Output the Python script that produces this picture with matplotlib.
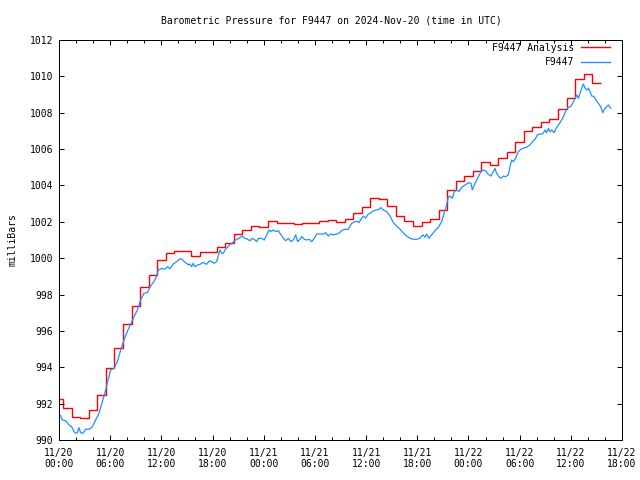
import numpy as np
import matplotlib
matplotlib.use("Agg")
import matplotlib.pyplot as plt
from matplotlib.lines import Line2D
from matplotlib.ticker import MultipleLocator

# ---------------- data ----------------
title = "Barometric Pressure for F9447 on 2024-Nov-20 (time in UTC)"
y_label = "milliBars"
analysis_label = "F9447 Analysis"
station_label = "F9447"

# x axis in hours since 2024-11-20 00:00 UTC
tick_hours = [0, 6, 12, 18, 24, 30, 36, 42, 48, 54, 60, 66]
tick_labels = ["11/20\n00:00", "11/20\n06:00", "11/20\n12:00", "11/20\n18:00",
               "11/21\n00:00", "11/21\n06:00", "11/21\n12:00", "11/21\n18:00",
               "11/22\n00:00", "11/22\n06:00", "11/22\n12:00", "11/22\n18:00"]
y_ticks = [990, 992, 994, 996, 998, 1000, 1002, 1004, 1006, 1008, 1010, 1012]

# hourly analysis values (hour 0 .. 63)
red_hours = list(range(64))
red_mbar = [992.24, 991.74, 991.25, 991.19, 991.65, 992.47, 993.96, 995.04, 996.36, 997.39,
            998.40, 999.06, 999.88, 1000.27, 1000.38, 1000.38, 1000.12, 1000.32, 1000.32, 1000.60,
            1000.82, 1001.31, 1001.55, 1001.77, 1001.72, 1002.03, 1001.92, 1001.92, 1001.87, 1001.96,
            1001.96, 1002.04, 1002.08, 1002.01, 1002.14, 1002.50, 1002.82, 1003.30, 1003.24, 1002.87,
            1002.32, 1002.03, 1001.77, 1001.97, 1002.16, 1002.65, 1003.73, 1004.25, 1004.52, 1004.80,
            1005.27, 1005.13, 1005.51, 1005.86, 1006.37, 1007.00, 1007.23, 1007.49, 1007.66, 1008.19,
            1008.79, 1009.86, 1010.11, 1009.62]

# station observations
blue_hours = [0, 0.2, 0.39, 0.78, 1.17, 1.48, 1.76, 1.95, 2.15, 2.34, 2.54, 2.81, 3.13, 3.59, 3.9,
              4.3, 4.69, 5.08, 5.47, 5.66, 5.86, 6.05, 6.45, 6.84, 7.23, 7.62, 8.0, 8.4, 8.79, 9.18,
              9.57, 9.96, 10.35, 10.74, 11.13,
              11.45, 11.64, 12.03, 12.42, 12.73, 13.0, 13.4, 13.79, 14.18, 14.38, 14.69, 14.96, 15.16,
              15.35, 15.55, 15.74, 15.94, 16.25, 16.52, 16.91, 17.3, 17.62, 17.89, 18.2, 18.48, 18.87,
              19.06, 19.26, 19.53, 19.92, 20.31, 20.7, 21.09, 21.48, 21.8, 22.11, 22.38, 22.66,
              22.98, 23.18, 23.37, 23.76, 24.07, 24.35, 24.62, 24.86, 25.13, 25.4, 25.71, 26.03, 26.3,
              26.57, 26.89, 27.2, 27.47, 27.75, 27.98, 28.25, 28.45, 28.76, 29.04, 29.31, 29.62, 29.93,
              30.21, 30.6, 30.99, 31.26, 31.57, 31.89, 32.16, 32.55, 32.82, 33.21, 33.61, 33.92, 34.31,
              34.7, 34.9, 35.17, 35.48, 35.68, 35.95, 36.18, 36.46, 36.85, 37.24, 37.51, 37.75, 38.02,
              38.41, 38.8, 39.19, 39.58, 39.97, 40.36, 40.75, 41.15, 41.54, 41.93, 42.32, 42.51, 42.71,
              42.9, 43.1, 43.37, 43.68, 44.08, 44.47, 44.86,
              45.25, 45.45, 45.64, 45.84, 46.11, 46.34, 46.62, 46.89, 47.2, 47.52, 47.79, 48.06, 48.3,
              48.45, 48.69, 48.96, 49.16, 49.47, 49.74, 50.02, 50.33, 50.64, 50.91, 51.11, 51.3, 51.58,
              51.81, 52.09, 52.36, 52.67, 52.87, 53.06, 53.26, 53.53, 53.84, 54.16, 54.43, 54.82,
              55.22, 55.53, 55.81, 56.08, 56.39, 56.7, 56.98, 57.17, 57.37, 57.56, 57.76, 58.03, 58.27,
              58.54, 58.81, 59.13, 59.44, 59.71, 59.99, 60.22, 60.49, 60.69, 60.88, 61.08, 61.27, 61.47,
              61.67, 61.86, 62.06, 62.25, 62.45, 62.72, 62.95, 63.23, 63.5, 63.74, 63.89, 64.13, 64.4,
              64.67]
blue_mbar = [991.43, 991.32, 991.10, 991.06, 990.83, 990.73, 990.46, 990.37, 990.40, 990.68, 990.40,
             990.37, 990.59, 990.60, 990.73, 991.10, 991.47, 992.11, 992.75, 993.15, 993.48, 993.85,
             993.94, 994.31, 994.95, 995.50, 995.96, 996.38, 996.78, 997.15, 997.70, 998.07, 998.10,
             998.47, 998.71,
             999.02, 999.35, 999.44, 999.39, 999.53, 999.42, 999.68, 999.81, 999.96, 999.96, 999.81,
             999.72, 999.63, 999.68, 999.53, 999.72, 999.53, 999.63, 999.66, 999.77, 999.66, 999.85,
             999.81, 999.72, 999.81, 1000.45, 1000.27, 1000.27, 1000.50, 1000.69, 1000.85, 1001.00,
             1001.09, 1001.22, 1001.09, 1001.04, 1000.96, 1001.09,
             1001.00, 1000.91, 1001.09, 1001.09, 1001.00, 1001.28, 1001.55, 1001.46, 1001.55, 1001.46,
             1001.51, 1001.28, 1001.09, 1000.96, 1001.09, 1000.91, 1001.00, 1001.28, 1000.91, 1001.04,
             1001.19, 1001.04, 1001.00, 1001.04, 1000.91, 1001.09, 1001.33, 1001.33, 1001.33, 1001.40,
             1001.22, 1001.33, 1001.28, 1001.33, 1001.37, 1001.55, 1001.59, 1001.59, 1001.92,
             1002.01, 1002.03, 1001.96, 1002.20, 1002.32, 1002.20, 1002.38, 1002.47, 1002.60, 1002.65,
             1002.69, 1002.78, 1002.65, 1002.56, 1002.32, 1001.96, 1001.77, 1001.59, 1001.40, 1001.22,
             1001.09, 1001.04, 1001.04, 1001.09, 1001.22, 1001.28, 1001.15, 1001.33, 1001.09, 1001.28,
             1001.51, 1001.70, 1002.01,
             1002.65, 1002.93, 1003.35, 1003.42, 1003.29, 1003.66, 1003.75, 1003.66, 1003.90, 1004.00,
             1004.08, 1004.15, 1004.12, 1003.75, 1004.03, 1004.30, 1004.48, 1004.76, 1004.85, 1004.80,
             1004.61, 1004.52, 1004.76, 1004.94, 1004.67, 1004.48, 1004.39, 1004.52, 1004.48, 1004.58,
             1005.04, 1005.40, 1005.31, 1005.50, 1005.86, 1005.99, 1006.05, 1006.10,
             1006.23, 1006.41, 1006.54, 1006.78, 1006.83, 1006.83, 1007.05, 1006.90, 1007.14, 1006.96,
             1007.05, 1006.90, 1007.14, 1007.33, 1007.51, 1007.78, 1008.15, 1008.30, 1008.34, 1008.52,
             1008.79, 1008.98, 1008.79, 1009.07, 1009.35, 1009.58, 1009.35, 1009.25, 1009.35, 1009.16,
             1008.92, 1008.89, 1008.70, 1008.52, 1008.34, 1008.00, 1008.15, 1008.30, 1008.43, 1008.25]

# ---------------- style ----------------
plt.rcParams["font.family"] = ["DejaVu Sans Mono", "DejaVu Sans"]
plt.rcParams["font.size"] = 7.0

RED = "#ff0000"
BLUE = "#1e90ff"

fig = plt.figure(figsize=(6.4, 4.8), dpi=100)
fig.patch.set_facecolor("white")
ax = fig.add_axes([59 / 640, 40 / 480, 563 / 640, 400 / 480])

# analysis as hourly steps centred on each hour
edges = np.append(np.array(red_hours, dtype=float) - 0.5, red_hours[-1] + 0.5)
ax.stairs(red_mbar, edges, baseline=None, color=RED, linewidth=1.0)
ax.plot(blue_hours, blue_mbar, color=BLUE, linewidth=0.9)

ax.set_xlim(tick_hours[0], tick_hours[-1])
ax.set_ylim(y_ticks[0], y_ticks[-1])
ax.set_xticks(tick_hours)
ax.set_xticklabels(tick_labels)
ax.xaxis.set_minor_locator(MultipleLocator(2))
ax.set_yticks(y_ticks)
ax.set_yticklabels([str(v) for v in y_ticks])

ax.tick_params(which="both", direction="in", top=True, right=True, width=0.72, colors="black")
ax.tick_params(which="major", length=3.6)
ax.tick_params(which="minor", length=2.2)
ax.tick_params(axis="x", which="major", pad=5.5)
ax.tick_params(axis="y", which="major", pad=4.3)
for sp in ax.spines.values():
    sp.set_linewidth(0.72)
    sp.set_color("black")

ax.set_title(title, pad=12, fontsize=7.0)
ax.title.set_x((331 - 59) / 563)
ax.set_ylabel(y_label)
ax.yaxis.set_label_coords(-0.0746, 0.5)

handles = [Line2D([], [], color=RED, linewidth=1.0), Line2D([], [], color=BLUE, linewidth=1.0)]
ax.legend(handles, [analysis_label, station_label], loc="upper right",
          bbox_to_anchor=(1 - 8 / 563, 1 + 1 / 400), borderaxespad=0, borderpad=0.4,
          frameon=False, markerfirst=False, handlelength=3.0, handletextpad=0.7,
          labelspacing=0.45)

fig.savefig("out.png", dpi=100, facecolor="white")
